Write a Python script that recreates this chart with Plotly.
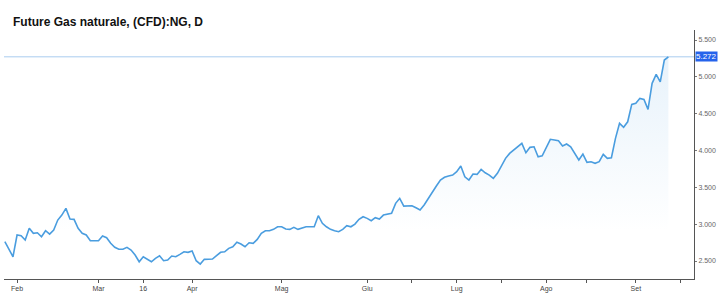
import pandas as pd
import plotly.graph_objects as go

title = "Future Gas naturale, (CFD):NG, D"
start_date = "2021-01-27"

prices = [
    # Jan 27 - Apr (segment 1)
    2762, 2663, 2558, 2853, 2844, 2785, 2944, 2876, 2884, 2830,
    2911, 2866, 2921, 3056, 3124, 3215, 3070, 3066, 2944, 2876,
    2853, 2776, 2771, 2776, 2839, 2816, 2740, 2686, 2659, 2659,
    2686, 2649, 2581, 2490, 2558, 2527, 2490, 2537, 2572, 2504,
    2514, 2568, 2558, 2591, 2626, 2618, 2636, 2504, 2459, 2523,
    2523, 2527, 2572, 2618, 2626, 2672, 2694, 2754,
    # Apr - Jul (segment 2)
    2731, 2694, 2748, 2740, 2794, 2876, 2911, 2911, 2930, 2965,
    2965, 2934, 2930, 2957, 2930, 2952, 2965, 2965, 2965, 3115,
    3012, 2965, 2930, 2911, 2898, 2930, 2979, 2965, 3002, 3066,
    3101, 3079, 3047, 3088, 3070, 3124, 3134, 3147, 3283, 3351,
    3246, 3246, 3251, 3223, 3192, 3260, 3351, 3427, 3518, 3599,
    # Jul - Sep (segment 3)
    3636, 3653, 3667, 3712, 3789, 3644, 3599, 3681, 3676, 3744,
    3698, 3667, 3622, 3690, 3789, 3894, 3961, 4006, 4061, 4097,
    3970, 4043, 4051, 3916, 3929, 4043, 4152, 4142, 4132, 4061,
    4088, 4051, 3952, 3871, 3952, 3839, 3848, 3826, 3848, 3948,
    3894, 3902, 4165, 4369, 4315, 4390, 4626, 4640, 4708, 4694,
    4559, 4912, 5034, 4933, 5228, 5272,
]
last_price = 5272

tick_dates = ["2021-02-01", "2021-03-01", "2021-03-16", "2021-04-01", "2021-05-03",
              "2021-06-01", "2021-06-16", "2021-07-01", "2021-07-16", "2021-08-02",
              "2021-08-16", "2021-09-01", "2021-09-16"]
tick_labels = ["Feb", "Mar", "16", "Apr", "Mag", "Giu", "", "Lug", "", "Ago", "", "Set", ""]

y_ticks = [2500, 3000, 3500, 4000, 4500, 5000, 5500]

dates = pd.bdate_range(start_date, periods=len(prices))

line_color = "#4a9ddf"

fig = go.Figure()
fig.add_trace(go.Scatter(
    x=dates, y=prices, mode="lines",
    line=dict(color=line_color, width=1.6),
    fill="tozeroy",
    fillgradient=dict(type="vertical", start=2900, stop=last_price,
                      colorscale=[[0, "rgba(74,157,223,0)"], [1, "rgba(74,157,223,0.13)"]]),
    hoverinfo="skip", showlegend=False,
))

fig.add_shape(type="line", xref="paper", yref="y", x0=0, x1=1, y0=last_price, y1=last_price,
              line=dict(color="#a9cdef", width=1), layer="below")

fig.add_annotation(xref="paper", yref="y", x=1.002, y=last_price, xanchor="left", yanchor="middle",
                   text="5.272", showarrow=False, bgcolor="#2563eb",
                   font=dict(family="Liberation Sans, Arial, sans-serif", size=8, color="white"),
                   borderpad=0)

fig.update_layout(
    width=720, height=300,
    margin=dict(l=4, r=26, t=30, b=21),
    paper_bgcolor="white", plot_bgcolor="white",
    separators=",.",
    font=dict(family="Liberation Sans, Arial, sans-serif", size=7, color="#555"),
    title=dict(text="<b>" + title + "</b>", x=13/720, xanchor="left", y=1 - 22/300, yanchor="middle",
               font=dict(family="Liberation Sans, Arial, sans-serif", size=12, color="#111")),
    xaxis=dict(
        type="date",
        range=["2021-01-26 19:00", "2021-09-21 07:00"],
        rangebreaks=[dict(bounds=["sat", "mon"])],
        tickmode="array", tickvals=tick_dates, ticktext=tick_labels,
        showgrid=False, zeroline=False,
        showline=True, linecolor="#555", linewidth=1,
        ticks="outside", ticklen=3, tickcolor="#555",
        tickfont=dict(size=7, color="#444"),
        fixedrange=True,
    ),
    yaxis=dict(
        side="right",
        range=[2256, 5636],
        tickmode="array", tickvals=y_ticks, tickformat=",d",
        showgrid=False, zeroline=False,
        showline=True, linecolor="#555", linewidth=1,
        ticks="outside", ticklen=2, tickcolor="#777",
        tickfont=dict(size=7, color="#666"),
        fixedrange=True,
    ),
)

fig.write_html("out.html")
